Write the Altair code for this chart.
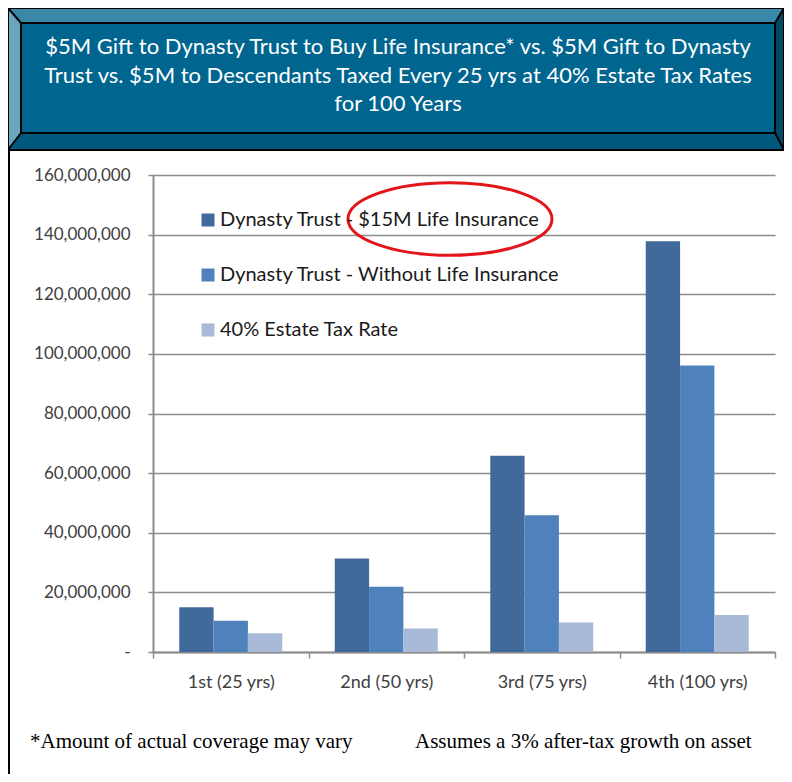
import altair as alt
import pandas as pd

categories = ["1st (25 yrs)", "2nd (50 yrs)", "3rd (75 yrs)", "4th (100 yrs)"]
series = [
    "Dynasty Trust - $15M Life Insurance",
    "Dynasty Trust - Without Life Insurance",
    "40% Estate Tax Rate",
]
with_insurance = [15.0e6, 31.4e6, 65.8e6, 137.8e6]
without_insurance = [10.5e6, 21.9e6, 45.9e6, 96.1e6]
estate_tax = [6.3e6, 7.9e6, 9.9e6, 12.4e6]
colors = ["#41699a", "#4f81bd", "#a9b9d8"]
y_ticks = [0, 20e6, 40e6, 60e6, 80e6, 100e6, 120e6, 140e6, 160e6]

title_lines = [
    "$5M Gift to Dynasty Trust to Buy Life Insurance* vs. $5M Gift to Dynasty",
    "Trust vs. $5M  to Descendants Taxed Every 25 yrs at 40% Estate Tax Rates",
    "for 100 Years",
]
note_left = "*Amount of actual coverage may vary"
note_right = "Assumes a 3% after-tax growth on asset"

rows = []
for s, vals in zip(series, [with_insurance, without_insurance, estate_tax]):
    for c, v in zip(categories, vals):
        rows.append({"gen": c, "series": s, "value": v})
df = pd.DataFrame(rows)

FONT = "Lato"
GRID = "#8c8c8c"

bars = alt.Chart(df).mark_bar().encode(
    x=alt.X("gen:N", sort=categories, title=None,
            scale=alt.Scale(paddingInner=0, paddingOuter=0),
            axis=alt.Axis(labelAngle=0, tickBand="extent", tickSize=6,
                          tickColor=GRID, domainColor=GRID, domainWidth=2,
                          tickWidth=1.5, labelFont=FONT, labelFontSize=18,
                          labelColor="#404040", labelPadding=15)),
    xOffset=alt.XOffset("series:N", sort=series,
                        scale=alt.Scale(paddingInner=0, paddingOuter=0.765)),
    y=alt.Y("value:Q", title=None,
            scale=alt.Scale(domain=[0, 160e6], nice=False),
            axis=alt.Axis(values=y_ticks, grid=True, gridColor=GRID, gridWidth=1.5,
                          tickColor=GRID, tickSize=5, tickWidth=1.5,
                          domainColor=GRID, domainWidth=2,
                          labelFont=FONT, labelFontSize=17, labelColor="#404040",
                          labelPadding=18,
                          labelExpr="datum.value == 0 ? '-' : format(datum.value, ',')")),
    color=alt.Color("series:N", sort=series,
                    scale=alt.Scale(domain=series, range=colors),
                    legend=alt.Legend(title=None, orient="none", legendX=45, legendY=35,
                                      symbolType="square", symbolSize=169,
                                      symbolStrokeWidth=0, labelFont=FONT,
                                      labelFontSize=20, labelColor="#1a1a1a",
                                      rowPadding=35, labelOffset=2, padding=0,
                                      labelLimit=500)),
)

# title box geometry (plot-area pixel coordinates)
X0, X1, X2, X3 = -145, -132, 622, 631
Y0, Y1, Y2, Y3 = -167, -152, -42, -25
bevel = pd.DataFrame([
    {"side": "top", "x": X0, "y": Y0, "y2": Y0},
    {"side": "top", "x": X1, "y": Y0, "y2": Y1},
    {"side": "top", "x": X2, "y": Y0, "y2": Y1},
    {"side": "top", "x": X3, "y": Y0, "y2": Y0},
    {"side": "bottom", "x": X0, "y": Y3, "y2": Y3},
    {"side": "bottom", "x": X1, "y": Y2, "y2": Y3},
    {"side": "bottom", "x": X2, "y": Y2, "y2": Y3},
    {"side": "bottom", "x": X3, "y": Y3, "y2": Y3},
    {"side": "left", "x": X0, "y": Y0, "y2": Y3},
    {"side": "left", "x": X1, "y": Y1, "y2": Y2},
    {"side": "right", "x": X2, "y": Y1, "y2": Y2},
    {"side": "right", "x": X3, "y": Y0, "y2": Y3},
])
bevel_layer = alt.Chart(bevel).mark_area(opacity=1).encode(
    x=alt.X("x:Q", scale=None, axis=None),
    y=alt.Y("y:Q", scale=None, axis=None),
    y2="y2:Q",
    color=alt.Color("side:N", legend=None,
                    scale=alt.Scale(domain=["top", "bottom", "left", "right"],
                                    range=["#3a88a8", "#005a7e", "#6aa6c0", "#004a66"])),
)

one = alt.Data(values=[{"a": 1}])
inner = alt.Chart(one).mark_rect(fill="#00668f", stroke="black", strokeWidth=2).encode(
    x=alt.value(X1), x2=alt.value(X2), y=alt.value(Y1), y2=alt.value(Y2))
outer = alt.Chart(one).mark_rect(fill=None, stroke="black", strokeWidth=2).encode(
    x=alt.value(X0), x2=alt.value(X3), y=alt.value(Y0), y2=alt.value(Y3))
diag = [
    alt.Chart(one).mark_rule(color="black", strokeWidth=2).encode(
        x=alt.value(a), y=alt.value(b), x2=alt.value(c), y2=alt.value(d))
    for a, b, c, d in [(X0, Y0, X1, Y1), (X3, Y0, X2, Y1), (X0, Y3, X1, Y2), (X3, Y3, X2, Y2)]
]
title_text = alt.Chart(one).mark_text(
    text=title_lines, font=FONT, fontSize=22, color="white", lineHeight=28.5,
    align="center", baseline="middle").encode(x=alt.value(245), y=alt.value(-128))

ellipse = alt.Chart(one).mark_point(
    shape="M -1 0 A 1 0.356 0 1 1 1 0 A 1 0.356 0 1 1 -1 0",
    size=204 * 204, filled=False, stroke="#e3151b", strokeWidth=3, opacity=1,
).encode(x=alt.value(297), y=alt.value(44))

left_border = alt.Chart(one).mark_rule(color="black", strokeWidth=2).encode(
    x=alt.value(-144), y=alt.value(-25), y2=alt.value(600))

notes = [
    alt.Chart(one).mark_text(text=t, font="Liberation Serif", fontSize=21, color="black",
                             align="left", baseline="alphabetic").encode(
        x=alt.value(px), y=alt.value(573))
    for t, px in [(note_left, -123), (note_right, 262)]
]

chart = alt.layer(
    bevel_layer, inner, outer, *diag, title_text, left_border, *notes, bars, ellipse
).resolve_scale(
    x="independent", y="independent", color="independent"
).properties(
    width=622, height=477,
    autosize=alt.AutoSizeParams(type="none"),
    padding={"left": 145, "top": 167, "right": 9, "bottom": 122},
).configure_view(stroke=None)

chart.save("out.html", embed_options={"renderer": "svg", "actions": False})
